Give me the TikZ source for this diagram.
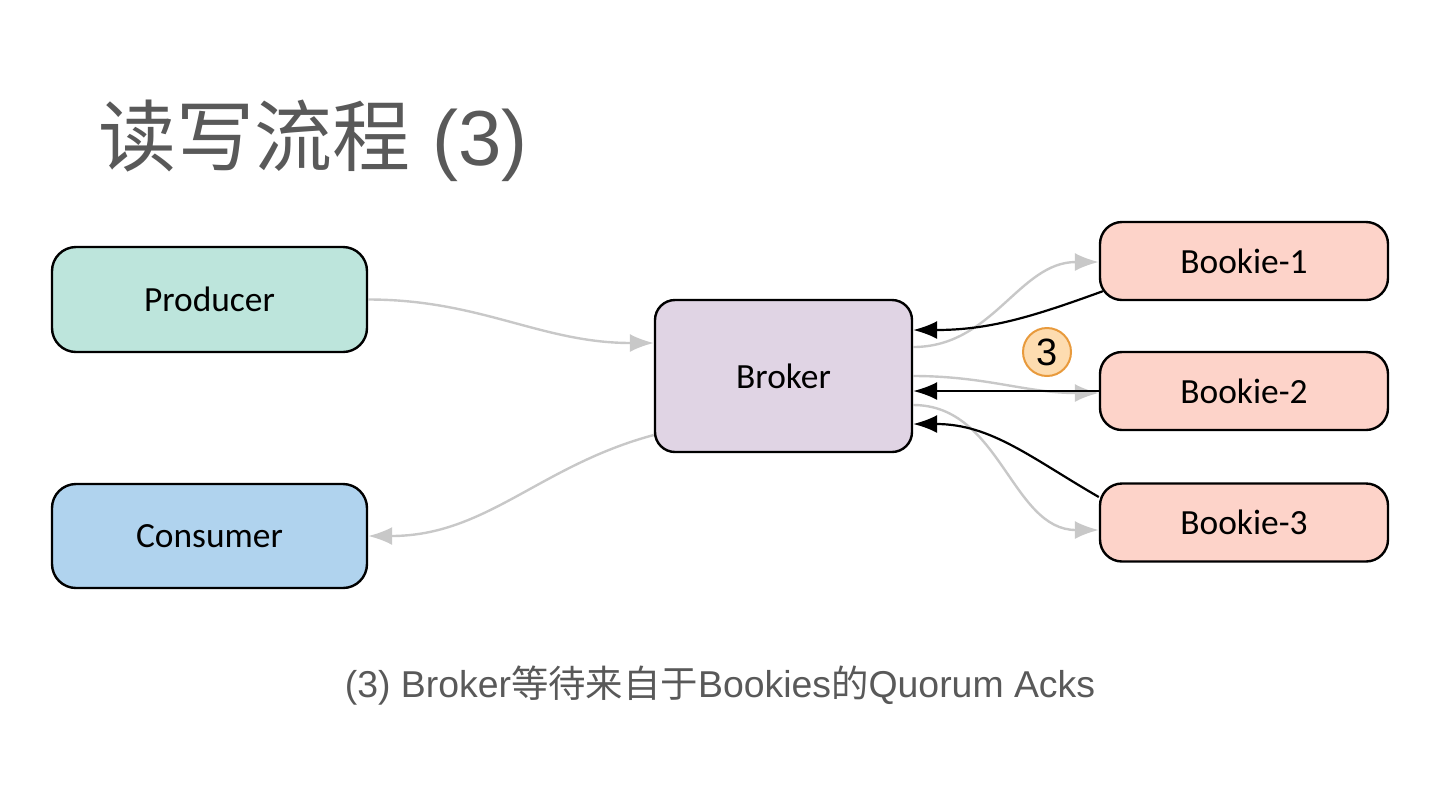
\documentclass[tikz,border=0pt]{standalone}
\usepackage{fontspec}
\usepackage{tikz}
\usetikzlibrary{positioning,arrows.meta}
\setmainfont{Liberation Sans}
\newfontfamily\boxfont{Carlito}
\newfontfamily\cjk{Noto Sans CJK SC}
\definecolor{prodfill}{HTML}{BDE5DC}
\definecolor{consfill}{HTML}{B0D3EE}
\definecolor{brokfill}{HTML}{E0D4E4}
\definecolor{bookfill}{HTML}{FDD3C9}
\definecolor{stepfill}{HTML}{FDDCB0}
\definecolor{stepline}{HTML}{E89A3C}
\definecolor{flowgray}{HTML}{C8C8C8}
\definecolor{textgray}{HTML}{595959}

\begin{document}
\begin{tikzpicture}[x=0.5pt,y=-0.5pt,node distance=2.5cm,auto,>={Latex[length=12pt,width=9pt]}]
    \useasboundingbox (0,0) rectangle (1440,810);
    \tikzset{
        comp/.style={draw=black, line width=1.2pt, rounded corners=12pt,
            font=\boxfont\fontsize{17.7}{20}\selectfont},
        flow/.style={->, draw=flowgray, line width=1.2pt},
        ack/.style={->, draw=black, line width=1.1pt}
    }
    % title and caption
    \node[text=textgray, anchor=base west, inner sep=0pt, font=\fontsize{39}{44}\selectfont] (title)
        at (98,165) {{\cjk 读写流程} (3)};
    \node[text=textgray, anchor=base, inner sep=0pt, font=\fontsize{18.7}{22}\selectfont] (caption)
        at (720,697) {(3) Broker{\cjk 等待来自于}Bookies{\cjk 的}Quorum Acks};
    % clients
    \node[comp, fill=prodfill, minimum width=157.5pt, minimum height=52.5pt] (prod) at (209.5,299.5) {Producer};
    \node[comp, fill=consfill, minimum width=157.5pt, minimum height=52pt] (cons) [below of=prod, node distance=118.25pt] {Consumer};
    % broker
    \node[comp, fill=brokfill, rounded corners=10pt, minimum width=128.5pt, minimum height=76pt] (broker) at (783.5,376) {Broker};
    % bookies
    \node[comp, fill=bookfill, rounded corners=11pt, minimum width=144pt, minimum height=39pt] (bk1) at (1244,261) {Bookie-1};
    \node[comp, fill=bookfill, rounded corners=11pt, minimum width=144pt, minimum height=39pt] (bk2) [below of=bk1, node distance=65pt] {Bookie-2};
    \node[comp, fill=bookfill, rounded corners=11pt, minimum width=144pt, minimum height=39pt] (bk3) [below of=bk2, node distance=65.75pt] {Bookie-3};
    % step marker
    \node[circle, draw=stepline, fill=stepfill, line width=1pt, minimum size=24pt, inner sep=0pt,
        font=\fontsize{19}{20}\selectfont] (mark) at (1047,352) {3};
    % gray data flow
    \draw[flow] (prod.east) to[out=0,in=180] ([yshift=16.5pt]broker.west);
    \draw[flow] ([yshift=-29.5pt]broker.west) to[out=195,in=0] (cons.east);
    \draw[flow] ([yshift=14.5pt]broker.east) to[out=0,in=180] ([yshift=-0.5pt]bk1.west);
    \draw[flow] (broker.east) to[out=0,in=180] ([yshift=-1pt]bk2.west);
    \draw[flow] ([yshift=-14.5pt]broker.east) to[out=0,in=180] ([yshift=-3.75pt]bk3.west);
    % black acks
    \draw[ack] ([xshift=2pt,yshift=5pt]bk1.south west) to[out=200,in=0] ([yshift=23pt]broker.east);
    \draw[ack] (bk2.west) -- ([yshift=-7.5pt]broker.east);
    \draw[ack] ([yshift=12.75pt]bk3.west) to[out=150,in=0] ([yshift=-24pt]broker.east);
\end{tikzpicture}
\end{document}
